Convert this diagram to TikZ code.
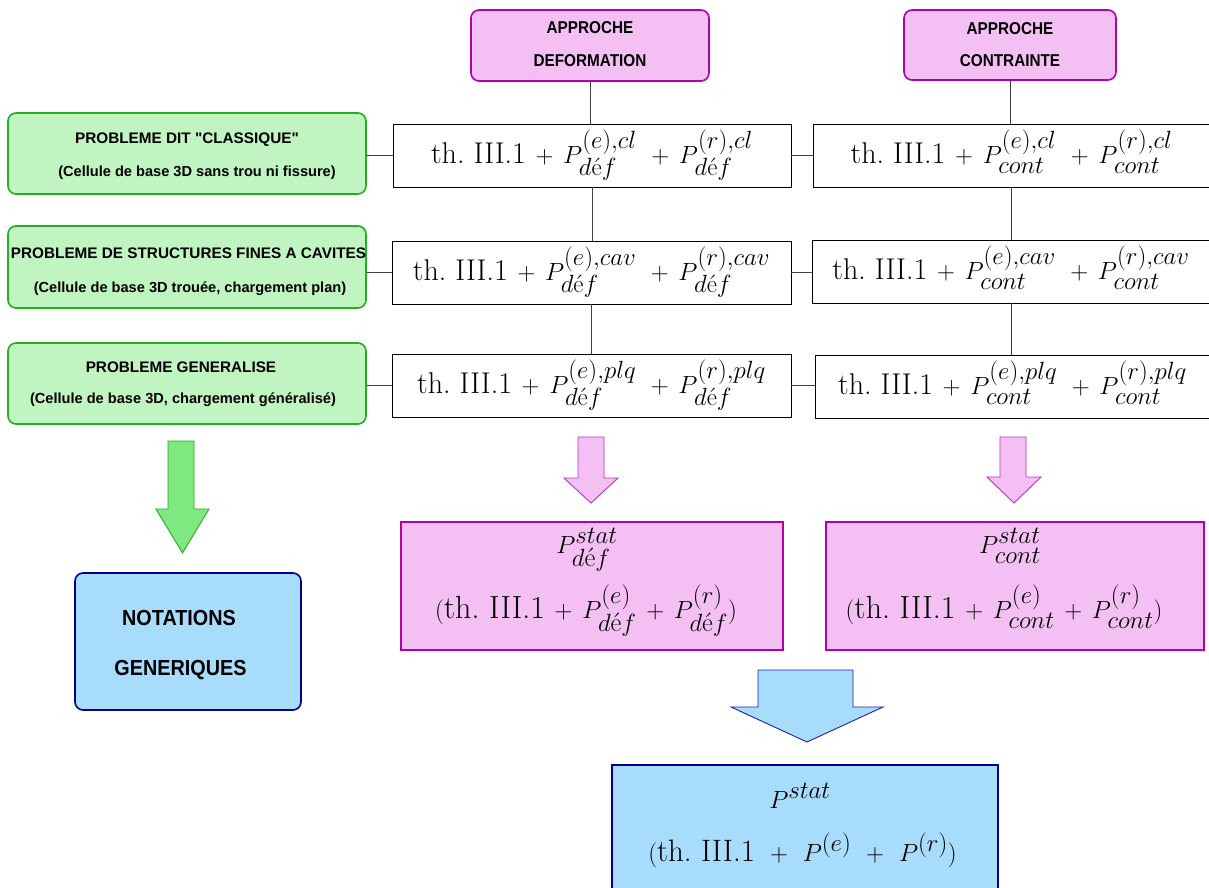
\documentclass[tikz,border=0pt]{standalone}
\usepackage{amsmath}
\usepackage{graphicx}
\usepackage{fontspec}
\newfontfamily\gsans{Liberation Sans}
\DeclareMathSizes{30}{30}{25}{18}
\DeclareMathSizes{31}{31}{26}{18}
\DeclareMathSizes{32}{32}{26.5}{19}
\definecolor{gfill}{HTML}{C0F4C0}
\definecolor{gline}{HTML}{20B020}
\definecolor{garrow}{HTML}{80E880}
\definecolor{pfill}{HTML}{F4C0F4}
\definecolor{pline}{HTML}{B000B0}
\definecolor{parrow}{HTML}{C030C0}
\definecolor{bfill}{HTML}{A8DCFC}
\definecolor{bline}{HTML}{000090}
\definecolor{barrow}{HTML}{2020B0}
\newcommand{\Pd}[1]{P^{#1}_{d\text{\'e}f}}
\newcommand{\Pc}[1]{P^{#1}_{cont}}
\newcommand{\thIII}{\text{th.\ III.1}}
\tikzset{
  rowbox/.style={draw=black, line width=0.8pt, fill=white, minimum height=63pt,
    inner sep=0pt, text height=20pt, text depth=5pt, font=\fontsize{30}{34}\selectfont},
  conn/.style={draw=black!75, line width=0.8pt},
  greenbox/.style={draw=gline, fill=gfill, line width=1.6pt, rounded corners=8pt, inner sep=0pt},
  pinkbox/.style={draw=pline, fill=pfill, line width=1.6pt, rounded corners=8pt, inner sep=0pt},
  bigpink/.style={draw=pline, fill=pfill, line width=2pt, inner sep=0pt},
  bluebox/.style={draw=bline, fill=bfill, line width=1.6pt, inner sep=0pt},
  ttl/.style={inner sep=0pt, font=\gsans\bfseries\fontsize{15.3}{18}\selectfont},
  sub/.style={inner sep=0pt, font=\gsans\bfseries\fontsize{14.6}{17}\selectfont},
  big/.style={inner sep=0pt, font=\gsans\bfseries\fontsize{19.8}{23}\selectfont},
  mtxt/.style={inner sep=0pt, anchor=base, font=\fontsize{32}{36}\selectfont},
  btxt/.style={inner sep=0pt, anchor=base, font=\fontsize{31}{35}\selectfont},
  garr/.style={draw=gline, fill=garrow, line width=0.9pt, line join=miter},
  parr/.style={draw=parrow, fill=pfill, line width=0.9pt, line join=miter},
  barr/.style={draw=barrow, fill=bfill, line width=0.9pt, line join=miter}
}
\begin{document}
\begin{tikzpicture}[x=1pt,y=-1pt]
\useasboundingbox (0,0) rectangle (1209,888);

% approach boxes
\node[pinkbox, minimum width=238pt, minimum height=71pt] (adef) at (590,45.5) {};
\node[ttl] (adef1) at (590,28) {\scalebox{1}[1.12]{APPROCHE}};
\node[ttl] (adef2) at (590,61) {\scalebox{1}[1.12]{DEFORMATION}};
\node[pinkbox, minimum width=212pt, minimum height=70pt] (acon) at (1010,45) {};
\node[ttl] (acon1) at (1010,29) {\scalebox{1}[1.12]{APPROCHE}};
\node[ttl] (acon2) at (1010,61) {\scalebox{1}[1.12]{CONTRAINTE}};

% green boxes
\node[greenbox, minimum width=358pt, minimum height=81pt] (g1) at (187,153.5) {};
\node[ttl] (g1a) at (187,140) {PROBLEME DIT "CLASSIQUE"};
\node[sub] (g1b) at (197,173) {(Cellule de base 3D sans trou ni fissure)};
\node[greenbox, minimum width=358pt, minimum height=82pt] (g2) at (187,267) {};
\node[ttl] (g2a) at (188.5,253) {PROBLEME DE STRUCTURES FINES A CAVITES};
\node[sub] (g2b) at (190,289) {(Cellule de base 3D trouée, chargement plan)};
\node[greenbox, minimum width=358pt, minimum height=81pt] (g3) at (187,383.5) {};
\node[ttl] (g3a) at (181,367) {PROBLEME GENERALISE};
\node[sub] (g3b) at (183,400) {(Cellule de base 3D, chargement généralisé)};

% row boxes
\node[rowbox, minimum width=398pt] (d1) at (592,155.5)
  {$\thIII\,+\,\Pd{(e),cl}\ +\,\Pd{(r),cl}$};
\node[rowbox, minimum width=399pt] (d2) at (591.5,272.5)
  {$\thIII\,+\,\Pd{(e),cav}\ +\,\Pd{(r),cav}$};
\node[rowbox, minimum width=399pt] (d3) at (591.5,385.5)
  {$\thIII\,+\,\Pd{(e),plq}\ +\,\Pd{(r),plq}$};
\node[rowbox, minimum width=397pt] (c1) at (1011.5,155.5)
  {$\thIII\,+\,\Pc{(e),cl}\ +\,\Pc{(r),cl}$};
\node[rowbox, minimum width=398pt] (c2) at (1011,271.5)
  {$\thIII\,+\,\Pc{(e),cav}\ +\,\Pc{(r),cav}$};
\node[rowbox, minimum width=395pt] (c3) at (1012.5,386.5)
  {$\thIII\,+\,\Pc{(e),plq}\ +\,\Pc{(r),plq}$};

% connectors
\draw[conn] (adef.south) -- (adef.south |- d1.north);
\draw[conn] (d1.south) -- (d1.south |- d2.north);
\draw[conn] (d2.south) -- (d2.south |- d3.north);
\draw[conn] (acon.south) -- (acon.south |- c1.north);
\draw[conn] (c1.south) -- (c1.south |- c2.north);
\draw[conn] (c2.south) -- (c2.south |- c3.north);
\draw[conn] (d1.west) -- (d1.west -| g1.east);
\draw[conn] (d2.west) -- (d2.west -| g2.east);
\draw[conn] (d3.west) -- (d3.west -| g3.east);
\draw[conn] (d1.east) -- (d1.east -| c1.west);
\draw[conn] (d2.east) -- (d2.east -| c2.west);
\draw[conn] (d3.east) -- (d3.east -| c3.west);

% block arrows
\draw[garr] (168,441) -- (194,441) -- (194,509) -- (209,509) -- (182.5,553) -- (156,509) -- (168,509) -- cycle;
\draw[parr] (578,437) -- (604,437) -- (604,478) -- (618,478) -- (591,503) -- (564,478) -- (578,478) -- cycle;
\draw[parr] (1000,437) -- (1026,437) -- (1026,477) -- (1041,477) -- (1014,503) -- (987,477) -- (1000,477) -- cycle;
\draw[barr] (758,670) -- (853,670) -- (853,707) -- (883,707) -- (807,742) -- (731,707) -- (758,707) -- cycle;

% notations box
\node[draw=bline, fill=bfill, line width=1.6pt, rounded corners=8pt, minimum width=226pt, minimum height=137pt] (nota) at (188,641.5) {};
\node[big] (nota1) at (179,618) {\scalebox{1}[1.1]{NOTATIONS}};
\node[big] (nota2) at (180.5,670) {\scalebox{1}[1.1]{GENERIQUES}};

% stat boxes
\node[bigpink, minimum width=382pt, minimum height=128pt] (pd) at (592,586) {};
\node[mtxt] (pd1) at (587,553) {$\Pd{stat}$};
\node[mtxt] (pd2) at (586,618) {$(\thIII\,+\,\Pd{(e)}\,+\,\Pd{(r)})$};
\node[bigpink, minimum width=378pt, minimum height=128pt] (pc) at (1015,586) {};
\node[mtxt] (pc1) at (1010,553) {$\Pc{stat}$};
\node[mtxt] (pc2) at (1004,618) {$(\thIII\,+\,\Pc{(e)}\,+\,\Pc{(r)})$};

\node[bluebox, minimum width=386pt, minimum height=124pt] (ps) at (805,827) {};
\node[btxt] (ps1) at (800,808) {$P^{stat}$};
\node[btxt] (ps2) at (802.5,861) {$(\thIII\ +\ P^{(e)}\ +\ P^{(r)})$};
\end{tikzpicture}
\end{document}
